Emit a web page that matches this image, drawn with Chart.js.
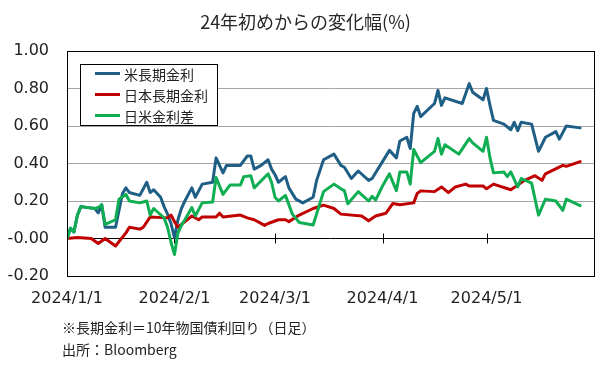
<!DOCTYPE html>
<html>
<head>
<meta charset="utf-8">
<script src="https://cdn.jsdelivr.net/npm/chart.js@4.4.1/dist/chart.umd.min.js"></script>
<style>
html, body { margin: 0; padding: 0; background: #fff; }
#wrap { width: 611px; height: 368px; }
</style>
</head>
<body>
<div id="wrap"><canvas id="chart" width="611" height="368"></canvas></div>
<script>
const titleText = "24年初めからの変化幅(%)";
const noteLines = ["※長期金利＝10年物国債利回り（日足）", "出所：Bloomberg"];

const seriesNames = ["米長期金利", "日本長期金利", "日米金利差"];
const seriesColors = ["#1f5f86", "#c00000", "#0fae52"];

// 米長期金利
const usDates = ["1/1","1/2","1/3","1/4","1/5","1/9","1/10","1/11","1/12","1/15","1/17","1/18","1/19","1/22","1/24","1/25","1/26","1/28","1/29","1/30","1/31",
  "2/1","2/2","2/3","2/4","2/6","2/7","2/9","2/12","2/13","2/15","2/16","2/20","2/22","2/23","2/24","2/26","2/28","2/29",
  "3/1","3/2","3/4","3/5","3/7","3/9","3/12","3/13","3/15","3/18","3/20","3/21","3/23","3/25","3/28","3/29",
  "4/1","4/3","4/5","4/6","4/8","4/9","4/10","4/11","4/12","4/16","4/17","4/18","4/19","4/24","4/26","4/27","4/30",
  "5/1","5/2","5/3","5/6","5/8","5/9","5/10","5/11","5/14","5/16","5/18","5/21","5/22","5/24","5/28"];
const usValues = [0,0.055,0.035,0.124,0.17,0.16,0.137,0.18,0.06,0.06,0.24,0.27,0.245,0.23,0.30,0.245,0.26,0.22,0.17,0.13,0.08,
  0.005,0.10,0.16,0.20,0.27,0.22,0.29,0.30,0.43,0.35,0.39,0.39,0.44,0.44,0.37,0.39,0.42,0.37,
  0.34,0.30,0.33,0.27,0.21,0.19,0.22,0.31,0.42,0.45,0.39,0.38,0.32,0.36,0.31,0.32,
  0.41,0.47,0.43,0.52,0.54,0.48,0.667,0.705,0.65,0.72,0.79,0.71,0.75,0.72,0.826,0.78,0.74,
  0.80,0.71,0.63,0.61,0.58,0.62,0.575,0.62,0.61,0.465,0.54,0.57,0.53,0.60,0.59];

// 日本長期金利
const jpDates = ["1/1","1/4","1/8","1/10","1/12","1/15","1/18","1/19","1/22","1/23","1/25","1/30","1/31",
  "2/1","2/2","2/5","2/6","2/8","2/9","2/13","2/14","2/15","2/20","2/22","2/24","2/27","2/28",
  "3/2","3/4","3/5","3/8","3/12","3/15","3/18","3/20","3/26","3/28","3/30",
  "4/2","4/4","4/6","4/10","4/11","4/12","4/16","4/18","4/20","4/22","4/25","4/26","4/30",
  "5/1","5/3","5/8","5/12","5/15","5/17","5/18","5/23","5/24","5/28"];
const jpValues = [0,0.005,0.0,-0.027,0.0,-0.04,0.03,0.06,0.05,0.06,0.115,0.11,0.125,
  0.09,0.06,0.105,0.12,0.10,0.115,0.115,0.135,0.115,0.125,0.11,0.10,0.07,0.08,
  0.10,0.10,0.09,0.125,0.16,0.178,0.16,0.13,0.12,0.095,0.12,
  0.135,0.187,0.18,0.19,0.24,0.254,0.25,0.275,0.245,0.275,0.29,0.28,0.28,
  0.265,0.29,0.26,0.31,0.335,0.31,0.345,0.39,0.385,0.41];

// 日米金利差
const spDates = ["1/1","1/2","1/3","1/4","1/5","1/9","1/10","1/11","1/12","1/15","1/16","1/18","1/19","1/22","1/24","1/25","1/26","1/29","1/30","1/31",
  "2/1","2/2","2/3","2/4","2/6","2/7","2/9","2/12","2/13","2/15","2/17","2/20","2/21","2/23","2/24","2/28","2/29",
  "3/1","3/2","3/4","3/6","3/8","3/12","3/15","3/18","3/20","3/21","3/22","3/25","3/28","3/29","3/30",
  "4/1","4/3","4/5","4/6","4/8","4/9","4/10","4/12","4/16","4/17","4/18","4/19","4/23","4/26","4/27","4/30",
  "5/1","5/2","5/3","5/6","5/7","5/8","5/10","5/11","5/14","5/16","5/18","5/21","5/23","5/24","5/28"];
const spValues = [0,0.055,0.035,0.124,0.17,0.16,0.165,0.18,0.075,0.10,0.21,0.235,0.20,0.19,0.20,0.125,0.16,0.11,0.06,-0.02,
  -0.085,0.03,0.07,0.10,0.165,0.12,0.19,0.195,0.325,0.235,0.285,0.285,0.33,0.335,0.27,0.345,0.30,
  0.22,0.20,0.23,0.13,0.085,0.072,0.25,0.29,0.265,0.255,0.185,0.25,0.20,0.225,0.205,
  0.28,0.345,0.255,0.355,0.355,0.29,0.475,0.405,0.465,0.533,0.45,0.50,0.45,0.533,0.51,0.465,
  0.54,0.43,0.35,0.355,0.33,0.355,0.275,0.32,0.295,0.125,0.21,0.20,0.15,0.21,0.175];

const monthTicks = ["1/1","2/1","3/1","4/1","5/1"];
const monthLabels = ["2024/1/1","2024/2/1","2024/3/1","2024/4/1","2024/5/1"];
const axisEnd = "6/1";

function dayOf(md) {
    let [m, d] = md.split("/").map(Number);
    return (Date.UTC(2024, m - 1, d) - Date.UTC(2024, 0, 1)) / 86400000;
}

function toPoints(dates, values) {
    return dates.map((d, i) => ({ x: dayOf(d), y: values[i] }));
}

const JP_FONT = '"Noto Sans CJK JP", "Noto Sans", sans-serif';
const NUM_FONT = '"DejaVu Sans", sans-serif';

const framePlugin = {
    id: "frame",
    beforeDatasetsDraw(chart) {
        let ctx = chart.ctx;
        let a = chart.chartArea;
        let x = chart.scales.x, y = chart.scales.y;
        let y0 = Math.round(y.getPixelForValue(0)) + 0.5;
        ctx.save();
        ctx.strokeStyle = "#000";
        ctx.lineWidth = 1;
        ctx.beginPath();
        ctx.moveTo(a.left, y0);
        ctx.lineTo(a.right, y0);
        monthTicks.forEach(m => {
            let px = Math.round(x.getPixelForValue(dayOf(m))) + 0.5;
            ctx.moveTo(px, y0 - 5);
            ctx.lineTo(px, y0 + 5);
        });
        ctx.stroke();
        ctx.restore();
    },
    afterDraw(chart) {
        let ctx = chart.ctx;
        let a = chart.chartArea;
        let x = chart.scales.x;
        ctx.save();
        // plot border
        ctx.strokeStyle = "#000";
        ctx.lineWidth = 1;
        ctx.strokeRect(Math.round(a.left) + 0.5, Math.round(a.top) + 0.5,
            Math.round(a.right - a.left), Math.round(a.bottom - a.top));

        // title
        ctx.fillStyle = "#262626";
        ctx.font = "18px " + JP_FONT;
        ctx.textAlign = "center";
        ctx.textBaseline = "middle";
        ctx.fillText(titleText, chart.width / 2, 22);

        // month labels
        ctx.font = "16px " + NUM_FONT;
        ctx.fillStyle = "#222";
        monthTicks.forEach((m, i) => {
            ctx.fillText(monthLabels[i], x.getPixelForValue(dayOf(m)), a.bottom + 23);
        });

        // legend
        let lx = a.left + 13, ly = a.top + 13;
        ctx.fillStyle = "#fff";
        ctx.fillRect(lx, ly, 137, 61);
        ctx.strokeStyle = "#000";
        ctx.strokeRect(lx + 0.5, ly + 0.5, 137, 61);
        ctx.font = "14px " + JP_FONT;
        ctx.textAlign = "left";
        seriesNames.forEach((name, i) => {
            let yy = ly + 9.5 + i * 21;
            ctx.strokeStyle = seriesColors[i];
            ctx.lineWidth = 3;
            ctx.beginPath();
            ctx.moveTo(lx + 15, yy);
            ctx.lineTo(lx + 40, yy);
            ctx.stroke();
            ctx.fillStyle = "#222";
            ctx.fillText(name, lx + 44, yy + 1);
        });

        // notes
        ctx.font = "14px " + JP_FONT;
        ctx.fillStyle = "#222";
        ctx.fillText(noteLines[0], 62, 328);
        ctx.fillText(noteLines[1], 62, 350);
        ctx.restore();
    }
};

function makeDataset(i, points, order) {
    return {
        label: seriesNames[i],
        data: points,
        borderColor: seriesColors[i],
        backgroundColor: seriesColors[i],
        borderWidth: 3,
        pointRadius: 0,
        tension: 0,
        borderJoinStyle: "round",
        borderCapStyle: "round",
        order: order
    };
}

let ctx = document.getElementById("chart").getContext("2d");
let chartInstance = new Chart(ctx, {
    type: "line",
    data: {
        datasets: [
            makeDataset(0, toPoints(usDates, usValues), 2),
            makeDataset(1, toPoints(jpDates, jpValues), 1),
            makeDataset(2, toPoints(spDates, spValues), 0)
        ]
    },
    options: {
        responsive: false,
        animation: false,
        devicePixelRatio: 1,
        layout: { padding: { left: 0, right: 17, top: 51, bottom: 92 } },
        plugins: {
            legend: { display: false },
            tooltip: { enabled: false },
            title: { display: false }
        },
        scales: {
            x: {
                type: "linear",
                display: false,
                min: 0,
                max: dayOf(axisEnd)
            },
            y: {
                min: -0.2,
                max: 1.0,
                afterFit(scale) { scale.width = 67; },
                ticks: {
                    stepSize: 0.2,
                    padding: 18,
                    color: "#222",
                    font: { family: NUM_FONT, size: 16 },
                    callback: v => v.toFixed(2)
                },
                border: { display: false },
                grid: {
                    drawTicks: false,
                    color: c => Math.abs(c.tick.value) < 1e-9 ? "rgba(0,0,0,0)" : "#a6a6a6",
                    lineWidth: 1
                }
            }
        }
    },
    plugins: [framePlugin]
});
</script>
</body>
</html>
